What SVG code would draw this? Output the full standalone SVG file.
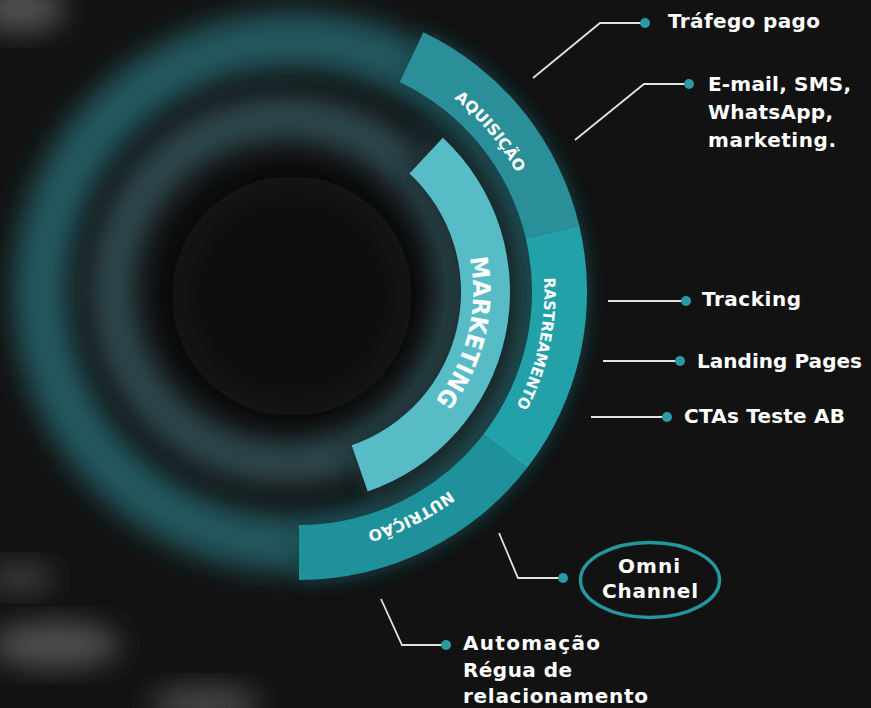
<svg xmlns="http://www.w3.org/2000/svg" xmlns:xlink="http://www.w3.org/1999/xlink" width="871" height="708" viewBox="0 0 871 708">
<defs>
<style>
.lbl{font-family:"DejaVu Sans","Liberation Sans",sans-serif;font-weight:700;font-size:20px;fill:#ffffff}
.arc-t{font-family:"DejaVu Sans","Liberation Sans",sans-serif;font-weight:700;font-size:15.5px;fill:#ffffff}
.mk-t{font-family:"DejaVu Sans","Liberation Sans",sans-serif;font-weight:700;font-size:24px;fill:#ffffff}
.con{fill:none;stroke:#e2e2e2;stroke-width:1.8}
.dot{fill:#2a9aa5}
</style>
<filter id="blur20" x="-30%" y="-30%" width="160%" height="160%"><feGaussianBlur stdDeviation="14"/></filter>
<filter id="blur30" x="-50%" y="-50%" width="200%" height="200%"><feGaussianBlur stdDeviation="24"/></filter>
<filter id="glow" x="-30%" y="-30%" width="160%" height="160%"><feGaussianBlur stdDeviation="10"/></filter>
<path id="p-aq" d="M383.8,59.0 A248,248 0 0 1 543.2,248.9"/>
<path id="p-ra" d="M532.7,216.9 A246,246 0 0 1 480.9,456.9"/>
<path id="p-nu" d="M506.6,429.4 A249,249 0 0 1 283.8,540.5"/>
<path id="p-mk" d="M454.9,214.6 A174,174 0 0 1 402.3,432.1"/>
</defs>

<!-- background -->
<rect x="0" y="0" width="871" height="708" fill="#121212"/>
<g id="bg-blur">
<circle cx="293" cy="292" r="252" fill="none" stroke="#24595f" stroke-width="56" filter="url(#blur20)"/>
<circle cx="285" cy="290" r="172" fill="none" stroke="#2d4a4f" stroke-width="44" filter="url(#blur20)"/>
<circle cx="292" cy="296" r="120" fill="#0c0c0c" filter="url(#blur30)"/>
<ellipse cx="20" cy="8" rx="45" ry="25" fill="#505050" filter="url(#blur20)"/>
<ellipse cx="20" cy="578" rx="35" ry="16" fill="#3a3a3a" filter="url(#blur20)"/>
<ellipse cx="55" cy="645" rx="65" ry="24" fill="#4e4e4e" filter="url(#blur20)"/>
<ellipse cx="205" cy="705" rx="55" ry="20" fill="#444444" filter="url(#blur20)"/>
</g>

<!-- glow under arcs -->
<g id="arc-glow" filter="url(#glow)" opacity="0.85">
<path d="M423.4,32.3 A288,288 0 0 1 299,580 L299,525 A233,233 0 0 0 399.7,81.9 Z" fill="#163e43"/>
<path d="M442.9,137.7 A211,211 0 0 1 367.7,491.5 L351.7,445.2 A162,162 0 0 0 409.5,173.5 Z" fill="#1a3336"/>
</g>
<path d="M412,120 A214,214 0 0 1 372,500 L348,440 A160,160 0 0 0 405,176 Z" fill="#1a2d30" filter="url(#glow)" opacity="0.6"/>

<!-- nodes: arc segments -->
<g id="node-aquisicao">
<path d="M423.4,32.3 A288,288 0 0 1 579.3,225.7 L525.8,238.4 A233,233 0 0 0 399.7,81.9 Z" fill="#2a8f99"/>
<text class="arc-t"><textPath href="#p-aq" startOffset="50%" text-anchor="middle" textLength="98" lengthAdjust="spacingAndGlyphs">AQUISIÇÃO</textPath></text>
</g>
<g id="node-rastreamento">
<path d="M579.3,225.7 A288,288 0 0 1 526.9,468.1 L483.3,434.5 A233,233 0 0 0 525.8,238.4 Z" fill="#22a2a8"/>
<text class="arc-t"><textPath href="#p-ra" startOffset="50%" text-anchor="middle" textLength="133" lengthAdjust="spacingAndGlyphs">RASTREAMENTO</textPath></text>
</g>
<g id="node-nutricao">
<path d="M526.9,468.1 A288,288 0 0 1 299,580 L299,525 A233,233 0 0 0 483.3,434.5 Z" fill="#1f919a"/>
<text class="arc-t"><textPath href="#p-nu" startOffset="50%" text-anchor="middle" textLength="92" lengthAdjust="spacingAndGlyphs">NUTRIÇÃO</textPath></text>
</g>
<g id="node-marketing">
<path d="M442.9,137.7 A211,211 0 0 1 367.7,491.5 L351.7,445.2 A162,162 0 0 0 409.5,173.5 Z" fill="#58bcc6"/>
<text class="mk-t"><textPath href="#p-mk" startOffset="50%" text-anchor="middle" textLength="152" lengthAdjust="spacingAndGlyphs">MARKETING</textPath></text>
</g>

<!-- connectors -->
<g id="connectors">
<polyline class="con" points="533,78 600,23 645,23"/>
<polyline class="con" points="575,140 644,84 689,84"/>
<polyline class="con" points="608,301 686,301"/>
<polyline class="con" points="603,361 680,361"/>
<polyline class="con" points="591,417 667,417"/>
<polyline class="con" points="499,533 518,578 563,578"/>
<polyline class="con" points="381,599 402,645 446,645"/>
<circle class="dot" cx="645" cy="23" r="5"/>
<circle class="dot" cx="689" cy="84" r="5"/>
<circle class="dot" cx="686" cy="301" r="5"/>
<circle class="dot" cx="680" cy="361" r="5"/>
<circle class="dot" cx="667" cy="417" r="5"/>
<circle class="dot" cx="563" cy="578" r="5"/>
<circle class="dot" cx="446" cy="645" r="5"/>
</g>

<!-- label nodes -->
<g id="node-trafego">
<text class="lbl" x="668" y="28" textLength="152" lengthAdjust="spacing">Tráfego pago</text>
</g>
<g id="node-email">
<text class="lbl" x="708" y="91" textLength="143" lengthAdjust="spacing">E-mail, SMS,</text>
<text class="lbl" x="708" y="119" textLength="125" lengthAdjust="spacing">WhatsApp,</text>
<text class="lbl" x="708" y="147" textLength="128" lengthAdjust="spacing">marketing.</text>
</g>
<g id="node-tracking">
<text class="lbl" x="702" y="306" textLength="99" lengthAdjust="spacing">Tracking</text>
</g>
<g id="node-landing">
<text class="lbl" x="697" y="368" textLength="165" lengthAdjust="spacing">Landing Pages</text>
</g>
<g id="node-ctas">
<text class="lbl" x="684" y="423" textLength="161" lengthAdjust="spacing">CTAs Teste AB</text>
</g>
<g id="node-omni">
<ellipse cx="650" cy="580" rx="69.5" ry="37.5" fill="none" stroke="#2496a0" stroke-width="3.5"/>
<text class="lbl" x="649" y="573" text-anchor="middle" textLength="62" lengthAdjust="spacing">Omni</text>
<text class="lbl" x="650" y="598" text-anchor="middle" textLength="96" lengthAdjust="spacing">Channel</text>
</g>
<g id="node-automacao">
<text class="lbl" x="463" y="650" textLength="137" lengthAdjust="spacing">Automação</text>
<text class="lbl" x="463" y="677" textLength="109" lengthAdjust="spacing">Régua de</text>
<text class="lbl" x="463" y="703" textLength="185" lengthAdjust="spacing">relacionamento</text>
</g>
</svg>
